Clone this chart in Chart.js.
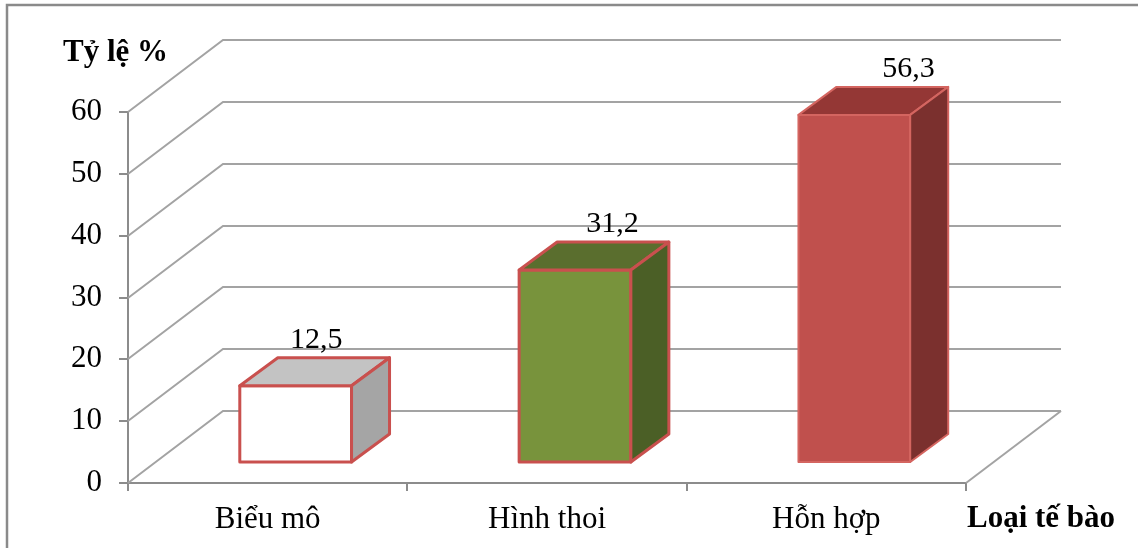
<!DOCTYPE html>
<html>
<head>
<meta charset="utf-8">
<script src="https://cdn.jsdelivr.net/npm/chart.js@4.4.1/dist/chart.umd.min.js"></script>
<style>
  html, body { margin: 0; padding: 0; background: #ffffff; }
  canvas { display: block; }
</style>
</head>
<body>
<canvas id="c" width="1138" height="548"></canvas>
<script>
// Data
const categories = ['Biểu mô', 'Hình thoi', 'Hỗn hợp'];
const values = [12.5, 31.2, 56.3];
const valueLabels = ['12,5', '31,2', '56,3'];
const yTickValues = [0, 10, 20, 30, 40, 50, 60];
const yTitle = 'Tỷ lệ %';
const xTitle = 'Loại tế bào';

// Styling
const FONT = "'Liberation Serif', 'Times New Roman', serif";
const GRID = '#a3a3a3';
const AXIS = '#8c8c8c';
const FACES = [
  { front: '#ffffff', top: '#c3c3c3', side: '#a5a5a5', edge: '#c9504e', edgeWidth: 3 },
  { front: '#78933c', top: '#5a6e2e', side: '#4b5f26', edge: '#c9504e', edgeWidth: 3 },
  { front: '#c0504d', top: '#943735', side: '#7b302e', edge: '#d46560', edgeWidth: 2 }
];
// Oblique projection of the depth axis
const WALL = { dx: 95, dy: 72 };        // floor/back wall depth
const BAR_SHIFT = { dx: 28, dy: 20 };   // bar front face set back from the front edge
const BAR_DEPTH = { dx: 38, dy: 28 };   // bar thickness in depth

// Walls, floor and 3D grid lines, plus value labels (bars are drawn over them)
const wallsPlugin = {
  id: 'walls',
  beforeDatasetsDraw(chart) {
    const { ctx, chartArea: a, scales: { y } } = chart;
    ctx.save();
    ctx.strokeStyle = GRID;
    ctx.lineWidth = 2;
    ctx.lineJoin = 'miter';
    y.ticks.forEach(t => {
      const py = Math.round(y.getPixelForValue(t.value));
      ctx.beginPath();
      ctx.moveTo(a.left, py);
      ctx.lineTo(a.left + WALL.dx, py - WALL.dy);
      ctx.lineTo(a.right + WALL.dx, py - WALL.dy);
      ctx.stroke();
    });
    // right edge of the floor
    const by = Math.round(y.getPixelForValue(0));
    ctx.beginPath();
    ctx.moveTo(a.right, by);
    ctx.lineTo(a.right + WALL.dx, by - WALL.dy);
    ctx.stroke();

    // value labels
    const meta = chart.getDatasetMeta(0);
    ctx.fillStyle = '#000000';
    ctx.font = `30px ${FONT}`;
    ctx.textAlign = 'center';
    ctx.textBaseline = 'alphabetic';
    meta.data.forEach((bar, i) => {
      const p = bar.getProps(['x', 'y'], true);
      const fx = p.x + BAR_SHIFT.dx;
      const backX = fx + BAR_DEPTH.dx / 2;
      const backTop = p.y - BAR_SHIFT.dy - BAR_DEPTH.dy;
      const lx = backX + (fx - a.left - 140) * 0.06;
      ctx.fillText(valueLabels[i], lx, backTop - 10);
    });
    ctx.restore();
  },
  afterDatasetsDraw(chart) {
    const { ctx } = chart;
    const meta = chart.getDatasetMeta(0);
    ctx.save();
    meta.data.forEach((bar, i) => {
      const f = FACES[i];
      const p = bar.getProps(['x', 'y', 'base', 'width'], true);
      const L = p.x - p.width / 2 + BAR_SHIFT.dx;
      const R = p.x + p.width / 2 + BAR_SHIFT.dx;
      const T = p.y - BAR_SHIFT.dy;
      const B = p.base - BAR_SHIFT.dy;
      const dx = BAR_DEPTH.dx, dy = BAR_DEPTH.dy;
      const poly = (pts, fill) => {
        ctx.beginPath();
        ctx.moveTo(pts[0][0], pts[0][1]);
        for (let k = 1; k < pts.length; k++) ctx.lineTo(pts[k][0], pts[k][1]);
        ctx.closePath();
        ctx.fillStyle = fill;
        ctx.fill();
        ctx.strokeStyle = f.edge;
        ctx.lineWidth = f.edgeWidth;
        ctx.lineJoin = 'round';
        ctx.stroke();
      };
      poly([[L, T], [R, T], [R, B], [L, B]], f.front);
      poly([[L, T], [L + dx, T - dy], [R + dx, T - dy], [R, T]], f.top);
      poly([[R, T], [R + dx, T - dy], [R + dx, B - dy], [R, B]], f.side);
    });
    ctx.restore();
  },
  afterDraw(chart) {
    const { ctx } = chart;
    ctx.save();
    // outer frame
    ctx.strokeStyle = '#8a8a8a';
    ctx.lineWidth = 2.5;
    ctx.beginPath();
    ctx.moveTo(7, 560);
    ctx.lineTo(7, 5);
    ctx.lineTo(1150, 5);
    ctx.stroke();
    // axis titles
    ctx.fillStyle = '#000000';
    ctx.font = `bold 31px ${FONT}`;
    ctx.textAlign = 'left';
    ctx.textBaseline = 'alphabetic';
    ctx.fillText(yTitle, 63, 61);
    ctx.fillText(xTitle, 967, 527);
    ctx.restore();
  }
};

new Chart(document.getElementById('c'), {
  type: 'bar',
  data: {
    labels: categories,
    datasets: [{
      data: values,
      backgroundColor: 'rgba(0,0,0,0)',
      borderWidth: 0,
      barPercentage: 0.4,
      categoryPercentage: 1.0
    }]
  },
  options: {
    responsive: false,
    animation: false,
    devicePixelRatio: 1,
    layout: { padding: { top: 112, right: 172, bottom: 0, left: 0 } },
    plugins: { legend: { display: false }, tooltip: { enabled: false }, title: { display: false } },
    scales: {
      x: {
        offset: true,
        grid: { display: true, offset: true, drawOnChartArea: false, drawTicks: true, tickLength: 8, color: AXIS, lineWidth: 2 },
        border: { display: true, color: AXIS, width: 2 },
        ticks: { color: '#000000', font: { family: FONT, size: 31 }, padding: 10, maxRotation: 0 },
        afterFit(scale) { scale.height = 65; }
      },
      y: {
        min: 0,
        max: 60,
        afterBuildTicks(scale) { scale.ticks = yTickValues.map(v => ({ value: v })); },
        grid: { display: true, drawOnChartArea: false, drawTicks: true, tickLength: 9, color: AXIS, lineWidth: 2 },
        border: { display: true, color: AXIS, width: 2 },
        ticks: { color: '#000000', font: { family: FONT, size: 31 }, padding: 17 },
        afterFit(scale) { scale.width = 128; }
      }
    }
  },
  plugins: [wallsPlugin]
});
</script>
</body>
</html>
